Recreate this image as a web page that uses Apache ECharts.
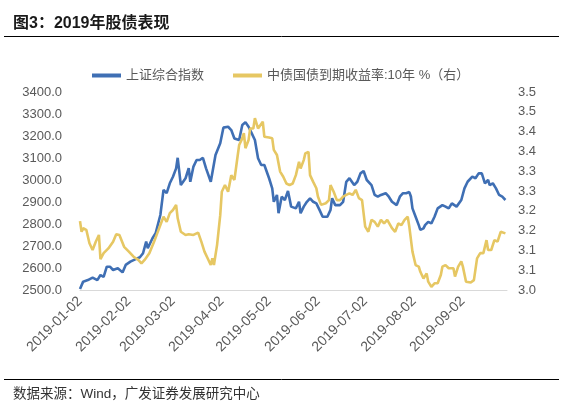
<!DOCTYPE html>
<html>
<head>
<meta charset="utf-8">
<script src="https://cdn.jsdelivr.net/npm/echarts@6/dist/echarts.min.js"></script>
<style>
html,body{margin:0;padding:0;background:#fff;}
#c{width:572px;height:403px;}
</style>
</head>
<body>
<div id="c"></div>
<script>
var titleText = '图3：2019年股债表现';
var sourceText = '数据来源：Wind，广发证券发展研究中心';
var seriesNames = ['上证综合指数', '中债国债到期收益率:10年 %（右）'];
var tickDates = ['2019-01-02','2019-02-02','2019-03-02','2019-04-02','2019-05-02','2019-06-02','2019-07-02','2019-08-02','2019-09-02'];
var axisStart = '2019-01-02';
var axisEnd = '2019-09-30';

var shDates = ['2019-01-02','2019-01-04','2019-01-07','2019-01-10','2019-01-13','2019-01-15','2019-01-17','2019-01-19','2019-01-21','2019-01-23','2019-01-26','2019-01-29','2019-01-31',
'2019-02-03','2019-02-06','2019-02-09','2019-02-11','2019-02-13','2019-02-14','2019-02-17','2019-02-19','2019-02-20','2019-02-22','2019-02-24','2019-02-26','2019-02-28',
'2019-03-02','2019-03-04','2019-03-05','2019-03-07','2019-03-10','2019-03-12','2019-03-13','2019-03-15','2019-03-17','2019-03-19','2019-03-21','2019-03-23','2019-03-26','2019-03-27','2019-03-29',
'2019-04-01','2019-04-03','2019-04-06','2019-04-08','2019-04-10','2019-04-13','2019-04-15','2019-04-17','2019-04-19','2019-04-21','2019-04-23','2019-04-25','2019-04-27','2019-04-29',
'2019-05-02','2019-05-04','2019-05-05','2019-05-07','2019-05-08','2019-05-10','2019-05-12','2019-05-14','2019-05-16','2019-05-19','2019-05-21','2019-05-22','2019-05-24','2019-05-26','2019-05-28','2019-05-30',
'2019-06-01','2019-06-03','2019-06-05','2019-06-08','2019-06-10','2019-06-11','2019-06-13','2019-06-16','2019-06-18','2019-06-20','2019-06-22','2019-06-25','2019-06-27','2019-06-29',
'2019-07-01','2019-07-03','2019-07-06','2019-07-08','2019-07-10','2019-07-12','2019-07-15','2019-07-17','2019-07-19','2019-07-20','2019-07-22','2019-07-24','2019-07-26','2019-07-28','2019-07-30','2019-07-31',
'2019-08-01','2019-08-03','2019-08-05','2019-08-06','2019-08-08','2019-08-09','2019-08-11','2019-08-13','2019-08-15','2019-08-17','2019-08-20','2019-08-22','2019-08-24','2019-08-26','2019-08-27','2019-08-29','2019-08-30',
'2019-09-01','2019-09-03','2019-09-05','2019-09-08','2019-09-10','2019-09-12','2019-09-14','2019-09-16','2019-09-18','2019-09-19','2019-09-21','2019-09-23','2019-09-25','2019-09-27','2019-09-29'];
var shValues = [2505,2538,2545,2556,2545,2568,2560,2606,2606,2591,2599,2580,2614,
2629,2639,2649,2667,2720,2690,2735,2758,2765,2841,2955,2940,2985,
3015,3053,3101,2977,3008,3054,2992,3061,3091,3091,3101,3053,2992,2992,3114,
3167,3238,3242,3227,3189,3182,3250,3262,3242,3212,3182,3099,3068,3068,
3008,2962,2901,2932,2849,2924,2909,2950,2879,2871,2901,2849,2879,2901,2917,2901,
2894,2864,2833,2833,2864,2917,2886,2886,2901,2992,3008,2977,2992,3030,
3041,3000,2977,2932,2924,2932,2940,2924,2901,2909,2886,2924,2940,2940,2945,2925,
2871,2833,2795,2773,2780,2795,2810,2803,2833,2871,2886,2879,2871,2894,2901,2879,2886,
2909,2962,2992,3015,3008,3030,3030,2985,3000,2977,2985,2962,2932,2924,2909];

var bondDates = ['2019-01-02','2019-01-03','2019-01-04','2019-01-06','2019-01-08','2019-01-10','2019-01-12','2019-01-14','2019-01-15','2019-01-17','2019-01-20','2019-01-23','2019-01-25','2019-01-27','2019-01-30',
'2019-02-02','2019-02-05','2019-02-08','2019-02-10','2019-02-12','2019-02-15','2019-02-18','2019-02-20','2019-02-22','2019-02-24','2019-02-26','2019-02-28',
'2019-03-02','2019-03-04','2019-03-05','2019-03-07','2019-03-10','2019-03-12','2019-03-13','2019-03-15','2019-03-18','2019-03-20','2019-03-22','2019-03-24','2019-03-26','2019-03-27','2019-03-28','2019-03-30',
'2019-04-01','2019-04-02','2019-04-04','2019-04-06','2019-04-08','2019-04-10','2019-04-12','2019-04-13','2019-04-15','2019-04-16','2019-04-17','2019-04-19','2019-04-20','2019-04-22','2019-04-23','2019-04-25','2019-04-26','2019-04-28','2019-04-29',
'2019-05-02','2019-05-04','2019-05-05','2019-05-07','2019-05-09','2019-05-11','2019-05-13','2019-05-15','2019-05-17','2019-05-19','2019-05-21','2019-05-22','2019-05-24','2019-05-25','2019-05-27','2019-05-28','2019-05-30',
'2019-06-01','2019-06-02','2019-06-04','2019-06-07','2019-06-09','2019-06-10','2019-06-12','2019-06-14','2019-06-16','2019-06-18','2019-06-20','2019-06-22','2019-06-24','2019-06-26','2019-06-28','2019-06-30',
'2019-07-02','2019-07-04','2019-07-06','2019-07-08','2019-07-10','2019-07-12','2019-07-14','2019-07-16','2019-07-19','2019-07-21','2019-07-23','2019-07-25','2019-07-27','2019-07-29','2019-07-30',
'2019-08-01','2019-08-03','2019-08-05','2019-08-06','2019-08-08','2019-08-10','2019-08-11','2019-08-13','2019-08-15','2019-08-17','2019-08-19','2019-08-20','2019-08-22','2019-08-24','2019-08-27','2019-08-28','2019-08-30',
'2019-09-01','2019-09-02','2019-09-04','2019-09-07','2019-09-09','2019-09-11','2019-09-13','2019-09-15','2019-09-17','2019-09-18','2019-09-20','2019-09-22','2019-09-24','2019-09-26','2019-09-27','2019-09-29'];
var bondValues = [3.174,3.147,3.156,3.152,3.118,3.101,3.122,3.139,3.078,3.093,3.105,3.122,3.141,3.139,3.109,
3.097,3.084,3.076,3.067,3.076,3.093,3.122,3.143,3.164,3.185,3.172,3.194,
3.202,3.215,3.181,3.147,3.139,3.141,3.143,3.139,3.145,3.122,3.097,3.080,3.063,3.080,3.063,3.114,
3.189,3.248,3.265,3.248,3.290,3.278,3.337,3.366,3.383,3.396,3.358,3.379,3.408,3.408,3.434,3.408,3.408,3.425,3.387,
3.385,3.383,3.354,3.341,3.299,3.286,3.269,3.265,3.269,3.290,3.324,3.307,3.328,3.345,3.349,3.290,3.273,
3.257,3.236,3.215,3.219,3.227,3.265,3.248,3.227,3.227,3.236,3.240,3.244,3.240,3.253,3.232,3.227,
3.160,3.147,3.177,3.172,3.160,3.177,3.168,3.177,3.156,3.147,3.168,3.164,3.177,3.185,3.160,
3.097,3.063,3.059,3.046,3.029,3.042,3.021,3.008,3.017,3.017,3.038,3.059,3.063,3.055,3.055,3.034,3.059,
3.072,3.059,3.021,3.019,3.025,3.080,3.093,3.093,3.126,3.101,3.101,3.126,3.122,3.147,3.147,3.143];

var FONT = "'Liberation Sans', 'Noto Sans CJK SC', sans-serif";
function parse(s) { var p = s.split('-'); return Date.UTC(+p[0], +p[1] - 1, +p[2]); }
function fmt(t) {
  var d = new Date(t);
  var m = d.getUTCMonth() + 1, dd = d.getUTCDate();
  return d.getUTCFullYear() + '-' + (m < 10 ? '0' : '') + m + '-' + (dd < 10 ? '0' : '') + dd;
}
function pairs(d, v) { return d.map(function (x, i) { return [parse(x), v[i]]; }); }

var chart = echarts.init(document.getElementById('c'), null, {renderer: 'canvas'});
chart.setOption({
  backgroundColor: '#ffffff',
  animation: false,
  textStyle: {fontFamily: FONT},
  grid: {left: 80, right: 65, top: 92, bottom: 113, containLabel: false},
  legend: {
    left: 87, top: 64,
    icon: 'rect', itemWidth: 29, itemHeight: 4, itemGap: 29,
    textStyle: {fontSize: 13, color: '#595959', fontFamily: FONT},
    data: seriesNames
  },
  xAxis: {
    type: 'value',
    min: parse(axisStart),
    max: parse(axisEnd),
    axisLine: {show: true, onZero: false, lineStyle: {color: '#d9d9d9', width: 1}},
    axisTick: {show: false},
    splitLine: {show: false},
    axisLabel: {
      customValues: tickDates.map(parse),
      rotate: 45,
      margin: 9,
      fontSize: 14,
      color: '#595959',
      fontFamily: FONT,
      formatter: function (v) { return fmt(v); }
    }
  },
  yAxis: [{
    type: 'value',
    min: 2500, max: 3400, interval: 100,
    axisLine: {show: false}, axisTick: {show: false}, splitLine: {show: false},
    axisLabel: {fontSize: 13, color: '#595959', margin: 18, fontFamily: FONT,
      formatter: function (v) { return v.toFixed(1); }}
  }, {
    type: 'value',
    min: 3.0, max: 3.5, interval: 0.05,
    axisLine: {show: false}, axisTick: {show: false}, splitLine: {show: false},
    axisLabel: {fontSize: 13, color: '#595959', margin: 11, fontFamily: FONT,
      formatter: function (v) { return (Math.round(v * 10 + 0.001) / 10).toFixed(1); }}
  }],
  series: [{
    name: seriesNames[0], type: 'line', yAxisIndex: 0,
    showSymbol: false, symbol: 'none',
    lineStyle: {color: '#3F6FB4', width: 2.6},
    itemStyle: {color: '#3F6FB4'},
    data: pairs(shDates, shValues)
  }, {
    name: seriesNames[1], type: 'line', yAxisIndex: 1,
    showSymbol: false, symbol: 'none',
    lineStyle: {color: '#E6C763', width: 2.6},
    itemStyle: {color: '#E6C763'},
    data: pairs(bondDates, bondValues)
  }],
  graphic: [
    {type: 'text', x: 13, y: 24, style: {text: titleText, fill: '#1a1a1a', font: "bold 16px " + FONT, verticalAlign: 'middle'}},
    {type: 'line', shape: {x1: 4, y1: 36.5, x2: 559, y2: 36.5}, style: {stroke: '#000', lineWidth: 1}},
    {type: 'line', shape: {x1: 4, y1: 379.5, x2: 559, y2: 379.5}, style: {stroke: '#000', lineWidth: 1}},
    {type: 'text', x: 13, y: 394, style: {text: sourceText, fill: '#333333', font: "13.5px " + FONT, verticalAlign: 'middle'}}
  ]
});
</script>
</body>
</html>
